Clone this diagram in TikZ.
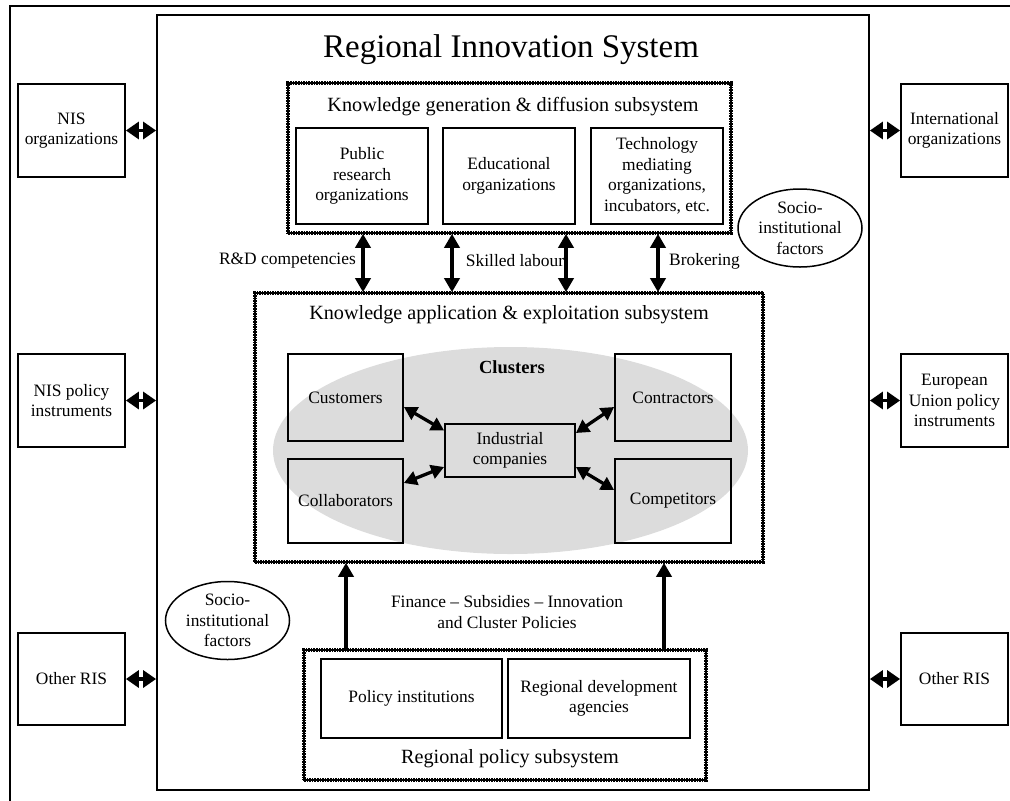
\documentclass[tikz,border=0pt]{standalone}
\usepackage{fontspec}
\setmainfont{Liberation Serif}
\usetikzlibrary{arrows.meta,shapes.geometric,calc}
\begin{document}
\begin{tikzpicture}[x=1pt,y=-1pt,
  every node/.style={font=\fontsize{17.4}{20.5}\selectfont, align=center, inner sep=0pt},
  bx/.style 2 args={draw, line width=1.8pt, minimum width=#1, minimum height=#2},
  dotframe/.style 2 args={draw, line width=1.6pt, minimum width=#1, minimum height=#2,
     postaction={draw, line width=4.2pt, dash pattern=on 1.6pt off 1pt}},
  socio/.style={draw, ellipse, line width=1.5pt, minimum width=124, minimum height=78, inner sep=-8pt},
  subtitle/.style={font=\fontsize{20.2}{22}\selectfont},
  vArr/.style={line width=3.8pt, {Triangle[width=15pt,length=14pt]}-{Triangle[width=15pt,length=14pt]}},
  upArr/.style={line width=3.8pt, -{Triangle[width=15pt,length=14pt]}},
  extArr/.style={line width=3.8pt, {Triangle[width=17pt,length=13pt]}-{Triangle[width=17pt,length=13pt]}},
  diagArr/.style={line width=3.3pt, {Triangle[width=14pt,length=13pt]}-{Triangle[width=14pt,length=13pt]}}
]
\useasboundingbox (0,0) rectangle (1010,801);

% outer partial frame
\coordinate (fbl) at (10,801);
\coordinate (ftl) at (10,6);
\coordinate (ftr) at (1010,6);
\draw[line width=1.8pt] (fbl) -- (ftl) -- (ftr);

% main RIS frame
\node[bx={712}{775}] (ris) at (513,402.5) {};
\node[font=\fontsize{33}{36}\selectfont, anchor=base] (title) at (511,57) {Regional Innovation System};

% cluster ellipse (background)
\node[ellipse, fill={rgb,255:red,220;green,220;blue,220}, minimum width=475, minimum height=207] (clell) at (510.5,450.5) {};

% knowledge generation subsystem
\node[dotframe={443}{150}] (kgen) at (509.5,158) {};
\node[subtitle] (kgent) at (513,107) {Knowledge generation \& diffusion subsystem};
\node[bx={132}{96}] (pub) at (362,176) {Public\\research\\organizations};
\node[bx={132}{96}] (edu) at (509,176) {Educational\\organizations};
\node[bx={132}{96}] (tech) at (657,176) {Technology\\mediating\\organizations,\\incubators, etc.};

\node[socio] (socio1) at (800,228) {Socio-\\institutional\\factors};

% knowledge application subsystem
\node[dotframe={508}{269}] (kapp) at (509,427.5) {};
\node[subtitle] (kappt) at (509,315) {Knowledge application \& exploitation subsystem};
\node[font=\fontsize{18.5}{20}\selectfont\bfseries] (clust) at (512,367) {Clusters};
\node[bx={115}{87}] (cust) at (345.5,397.5) {Customers};
\node[bx={115}{84}] (coll) at (345.5,501) {Collaborators};
\node[bx={116}{87}] (contr) at (673,397.5) {Contractors};
\node[bx={116}{84}] (comp) at (673,501) {Competitors};
\node[bx={130}{53}] (ind) at (510,450.5) {Industrial\\companies};

\draw[diagArr] ($(cust.east)+(0,9.5)$) -- ($(ind.west)+(0,-20)$);
\draw[diagArr] ($(coll.east)+(0,-18)$) -- ($(ind.west)+(0,16.5)$);
\draw[diagArr] ($(ind.east)+(0,-17.5)$) -- ($(contr.west)+(0,9.5)$);
\draw[diagArr] ($(ind.east)+(0,16.5)$) -- ($(comp.west)+(0,-11)$);

% arrows between the two knowledge subsystems
\coordinate (a1) at (363,0);
\coordinate (a2) at (452,0);
\coordinate (a3) at (566,0);
\coordinate (a4) at (658,0);
\draw[vArr] (kgen.south -| a1) -- (kapp.north -| a1);
\draw[vArr] (kgen.south -| a2) -- (kapp.north -| a2);
\draw[vArr] (kgen.south -| a3) -- (kapp.north -| a3);
\draw[vArr] (kgen.south -| a4) -- (kapp.north -| a4);
\node[anchor=east] (lrd) at (356,261) {R\&D competencies};
\node (lsk) at (515,261) {Skilled labour};
\node[anchor=west] (lbr) at (669,261) {Brokering};

% regional policy subsystem
\node[dotframe={402}{130}] (pol) at (505,715) {};
\node[bx={181}{79}] (polinst) at (411.5,698.5) {Policy institutions};
\node[bx={182}{79}] (rda) at (599,698.5) {Regional development\\agencies};
\node[subtitle] (polt) at (510,759) {Regional policy subsystem};

\coordinate (b1) at (346,0);
\coordinate (b2) at (664,0);
\draw[upArr] (pol.north -| b1) -- (kapp.south -| b1);
\draw[upArr] (pol.north -| b2) -- (kapp.south -| b2);
\node[font=\fontsize{17.4}{21}\selectfont] (fin) at (507,612) {Finance -- Subsidies -- Innovation\\and Cluster Policies};

\node[socio] (socio2) at (227.5,620.5) {Socio-\\institutional\\factors};

% external boxes
\node[bx={107}{93}] (nisorg) at (71.5,130.5) {NIS\\organizations};
\node[bx={107}{93}] (nispol) at (71.5,400.5) {NIS policy\\instruments};
\node[bx={107}{92}] (oris1) at (71.5,679) {Other RIS};
\node[bx={107}{93}] (intorg) at (954.5,130.5) {International\\organizations};
\node[bx={107}{93}] (eupol) at (954.5,400.5) {European\\Union policy\\instruments};
\node[bx={107}{92}] (oris2) at (954.5,679) {Other RIS};

\draw[extArr] (nisorg.east) -- (nisorg.east -| ris.west);
\draw[extArr] (nispol.east) -- (nispol.east -| ris.west);
\draw[extArr] (oris1.east) -- (oris1.east -| ris.west);
\draw[extArr] (intorg.west) -- (intorg.west -| ris.east);
\draw[extArr] (eupol.west) -- (eupol.west -| ris.east);
\draw[extArr] (oris2.west) -- (oris2.west -| ris.east);
\end{tikzpicture}
\end{document}
